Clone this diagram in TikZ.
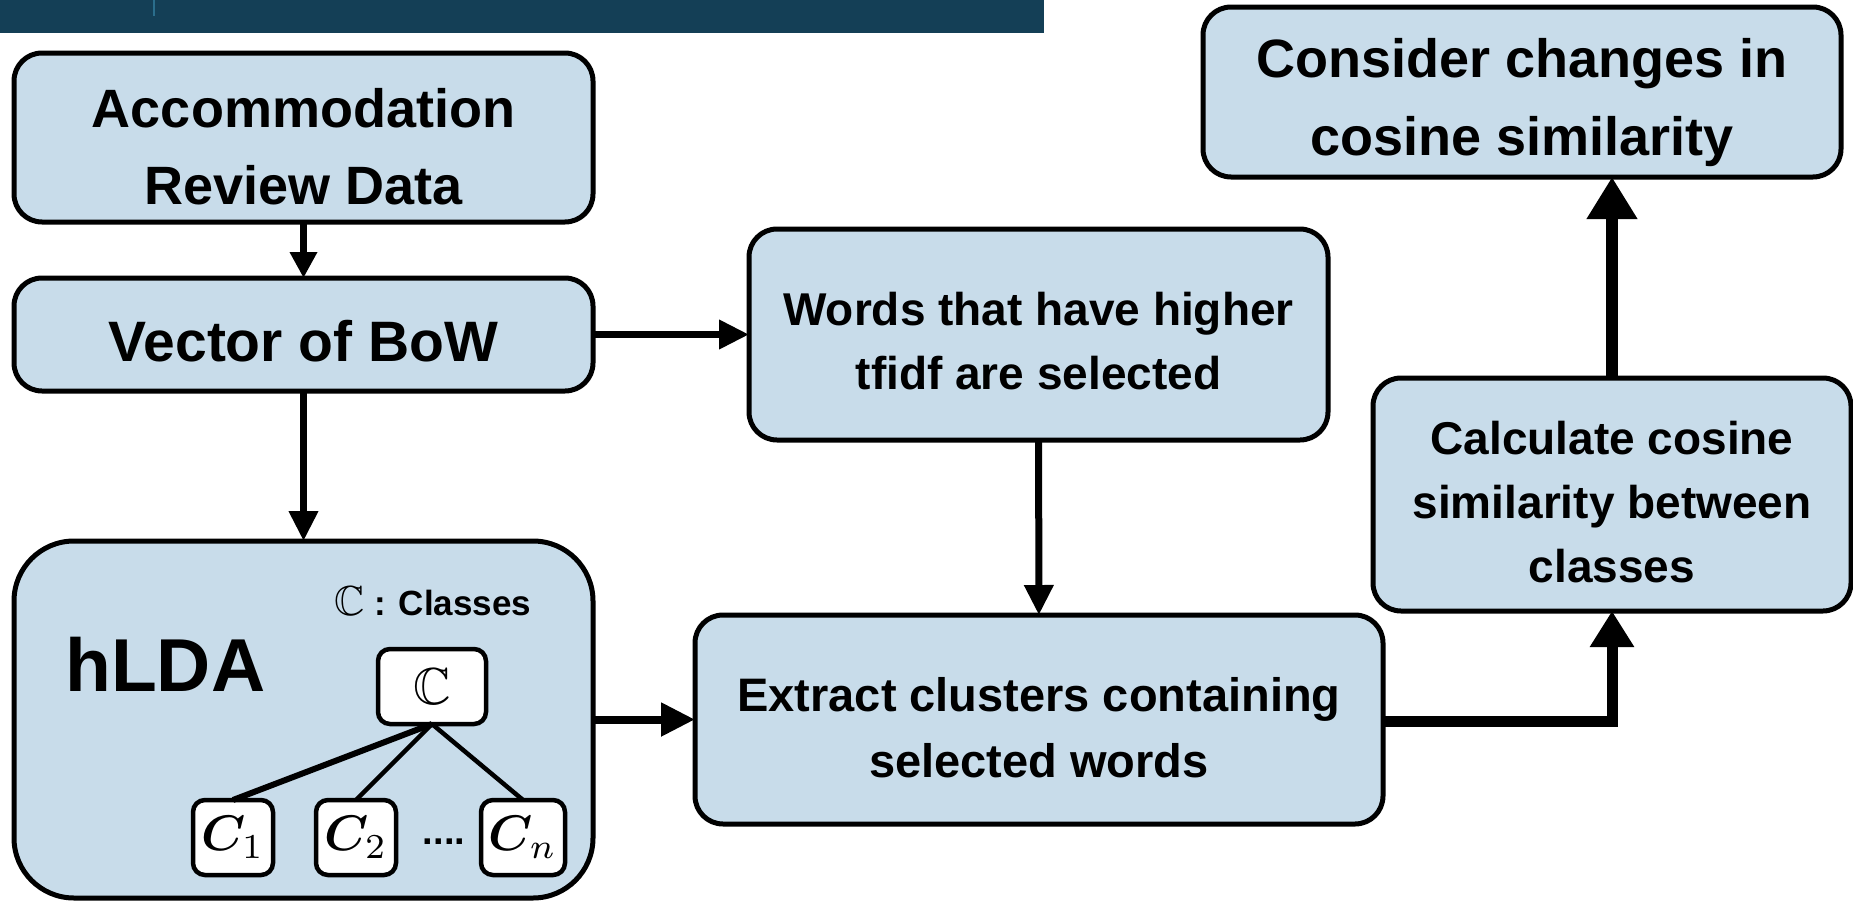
\documentclass[tikz,border=0pt]{standalone}
\usepackage{fontspec}
\setmainfont{Liberation Sans}
\usepackage{amssymb}
\usepackage{bm}
\usetikzlibrary{arrows.meta}
\definecolor{boxfill}{HTML}{C8DCEA}
\definecolor{barblue}{HTML}{143F56}
\definecolor{barline}{HTML}{2B6E8C}
\newcommand{\bigsym}[2]{\scalebox{#1}{{\fontsize{10}{12}\selectfont$#2$}}}

\begin{document}
\begin{tikzpicture}[x=1pt,y=-1pt,
  box/.style={draw=black, line width=5pt, fill=boxfill, rounded corners=28pt,
    inner sep=0pt, outer sep=0pt},
  caption/.style={align=center, inner sep=0pt},
  bigtext/.style={caption, font=\fontsize{54}{77}\selectfont\bfseries},
  midtext/.style={caption, font=\fontsize{46}{64}\selectfont\bfseries},
  small/.style={draw=black, line width=4.5pt, fill=white, rounded corners=12pt,
    inner sep=0pt, outer sep=0pt, minimum height=75pt},
  flow/.style={line width=7pt, -{Triangle[length=30pt,width=28pt]}},
  heavy/.style={line width=12pt, -{Triangle[length=42pt,width=48pt]}},
  branch/.style={line width=4.5pt}
]
\useasboundingbox (0,0) rectangle (1853,902);

% header strip
\fill[barblue] (0,0) rectangle (1044,33);
\draw[barline, line width=1.5pt] (154,0) -- (154,16);

% process boxes
\node[box, minimum width=579pt, minimum height=169pt] (acc) at (303.5,137.5) {};
\node[box, minimum width=579pt, minimum height=113pt] (bow) at (303.5,334.5) {};
\node[box, rounded corners=60pt, minimum width=579pt, minimum height=357pt] (hlda) at (303.5,719.5) {};
\node[box, minimum width=579pt, minimum height=211pt] (words) at (1038.5,334.5) {};
\node[box, minimum width=688pt, minimum height=209pt] (extract) at (1039,719.5) {};
\node[box, minimum width=478pt, minimum height=233pt] (calc) at (1612,494.5) {};
\node[box, minimum width=638pt, minimum height=170pt] (cons) at (1522,92) {};

% box captions
\node[bigtext] (acctxt) at ([yshift=-9pt]acc.center) {Accommodation\\Review Data};
\node[bigtext, font=\fontsize{57}{77}\selectfont\bfseries] (bowtxt) at ([yshift=-7pt]bow.center) {Vector of BoW};
\node[midtext] (wordstxt) at ([yshift=-7pt]words.center) {Words that have higher\\tfidf are selected};
\node[midtext, font=\fontsize{47}{66}\selectfont\bfseries] (extracttxt) at ([yshift=-8pt]extract.center) {Extract clusters containing\\selected words};
\node[midtext] (calctxt) at ([yshift=-8pt]calc.center) {Calculate cosine\\similarity between\\classes};
\node[bigtext, font=\fontsize{54}{78}\selectfont\bfseries] (constxt) at ([yshift=-11pt]cons.center) {Consider changes in\\cosine similarity};

% hLDA contents
\node[anchor=base west, inner sep=0pt, font=\fontsize{75}{80}\selectfont\bfseries] (hldatitle) at (65,691) {hLDA};
\node[anchor=base west, inner sep=0pt, font=\fontsize{35}{40}\selectfont\bfseries] (legend) at (334,615)
  {\bigsym{4.2}{\mathbb{C}}\ : Classes};
\node[small, minimum width=108pt] (cc) at (432,686.5) {\bigsym{5.2}{\mathbb{C}}};
\node[small, minimum width=80pt] (c1) at (233,837.5) {\bigsym{5}{\bm{C}_{1}}};
\node[small, minimum width=80pt] (c2) at (356,837.5) {\bigsym{5}{\bm{C}_{2}}};
\node[small, minimum width=84pt] (cn) at (523,837.5) {\bigsym{5}{\bm{C}_{n}}};
\node[inner sep=0pt, font=\fontsize{38}{38}\selectfont\bfseries] (dots) at (444,842) {....};
\draw[branch, line width=6pt] (cc.south) -- (c1.north);
\draw[branch] (cc.south) -- (c2.north);
\draw[branch] (cc.south) -- (cn.north);

% connectors
\draw[flow, -{Triangle[length=26pt,width=26pt]}] (acc) -- (bow);
\draw[flow] (bow) -- (hlda);
\draw[flow] (bow) -- (words);
\draw[flow] (words) -- (extract);
\draw[flow, line width=8pt, -{Triangle[length=34pt,width=32pt]}] (hlda.east |- extract) -- (extract);
\draw[heavy, line width=11pt, -{Triangle[length=36pt,width=42pt]}] ([yshift=-2pt]extract.east) -| (calc.south);
\draw[heavy] (calc.north) -- (calc.north |- cons.south);
\end{tikzpicture}
\end{document}
